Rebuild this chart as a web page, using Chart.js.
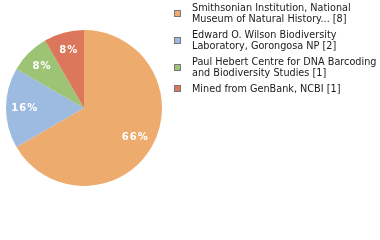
<!DOCTYPE html>
<html>
<head>
<meta charset="utf-8">
<script src="https://cdn.jsdelivr.net/npm/chart.js@4"></script>
<style>
  html, body { margin: 0; padding: 0; background: #fff; }
  #wrap { position: relative; width: 380px; height: 240px; overflow: hidden; }
  #pie { position: absolute; left: 0; top: 0; }
  #legend { position: absolute; left: 174px; top: 2px; width: 206px; white-space: nowrap;
    font-family: "DejaVu Sans", Verdana, sans-serif; font-size: 9.7px; line-height: 11px; color: #1a1a1a; }
  .item { display: flex; align-items: center; margin-bottom: 5px; }
  .box { width: 5px; height: 5px; border: 1px solid #777; flex: none; margin-right: 11px; }
</style>
</head>
<body>
<div id="wrap">
  <canvas id="pie" width="380" height="240"></canvas>
  <div id="legend"></div>
</div>
<script>
const labels = [
  ["Smithsonian Institution, National", "Museum of Natural History... [8]"],
  ["Edward O. Wilson Biodiversity", "Laboratory, Gorongosa NP [2]"],
  ["Paul Hebert Centre for DNA Barcoding", "and Biodiversity Studies [1]"],
  ["Mined from GenBank, NCBI [1]"]
];
const counts = [8, 2, 1, 1];
const colors = ["#EEAB6E", "#9DBBE0", "#9DC375", "#DC775B"];

const total = counts.reduce((a, b) => a + b, 0);

// white percent labels inside the slices
const sliceLabels = {
  id: "sliceLabels",
  afterDatasetsDraw(chart) {
    const ctx = chart.ctx;
    const meta = chart.getDatasetMeta(0);
    ctx.save();
    ctx.fillStyle = "#fff";
    ctx.font = "bold 10px 'DejaVu Sans'";
    ctx.textAlign = "center";
    ctx.textBaseline = "middle";
    meta.data.forEach((arc, i) => {
      const p = arc.getProps(["x", "y", "startAngle", "endAngle", "outerRadius"], true);
      const mid = (p.startAngle + p.endAngle) / 2;
      const r = p.outerRadius * 0.76;
      const txt = Math.floor(counts[i] / total * 100) + "%";
      ctx.letterSpacing = "1px";
      ctx.fillText(txt, p.x + Math.cos(mid) * r, p.y + Math.sin(mid) * r);
    });
    ctx.restore();
  }
};

new Chart(document.getElementById("pie"), {
  type: "pie",
  data: {
    labels: labels.map(l => l.join(" ")),
    datasets: [{ data: counts, backgroundColor: colors, borderWidth: 0 }]
  },
  options: {
    responsive: false,
    animation: false,
    layout: { padding: { left: 6, top: 30, right: 218, bottom: 54 } },
    plugins: { legend: { display: false }, tooltip: { enabled: false } }
  },
  plugins: [sliceLabels]
});

const legend = document.getElementById("legend");
labels.forEach((lines, i) => {
  const item = document.createElement("div");
  item.className = "item";
  const box = document.createElement("div");
  box.className = "box";
  box.style.background = colors[i];
  const text = document.createElement("div");
  text.innerHTML = lines.join("<br>");
  item.appendChild(box);
  item.appendChild(text);
  legend.appendChild(item);
});
</script>
</body>
</html>
